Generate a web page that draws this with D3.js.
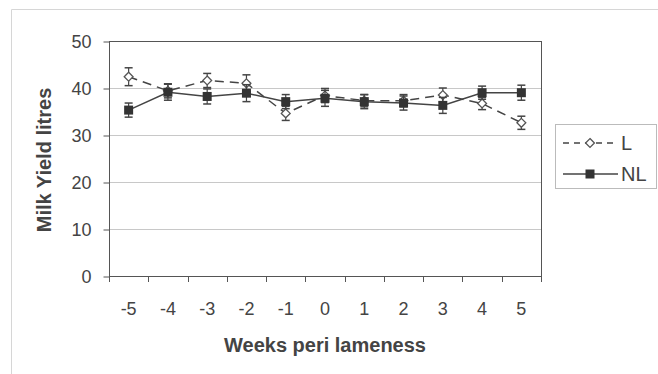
<!DOCTYPE html>
<html>
<head>
<meta charset="utf-8">
<script src="https://cdn.jsdelivr.net/npm/d3@7"></script>
<style>
  body { margin: 0; background: #fff; }
  text { font-family: "Liberation Sans", Arial, sans-serif; }
</style>
</head>
<body>
<div id="chart"></div>
<script>
const weeks = ["-5", "-4", "-3", "-2", "-1", "0", "1", "2", "3", "4", "5"];
const lame = [42.4, 39.4, 41.6, 41.0, 34.6, 38.4, 37.3, 37.3, 38.5, 36.7, 32.6];
const lameErr = [1.9, 1.5, 1.5, 1.8, 1.5, 1.5, 1.3, 1.3, 1.5, 1.3, 1.4];
const notLame = [35.3, 39.1, 38.2, 38.9, 37.1, 37.8, 37.1, 36.8, 36.3, 39.0, 39.0];
const notLameErr = [1.5, 1.7, 1.6, 1.8, 1.5, 1.7, 1.5, 1.5, 1.7, 1.4, 1.6];
const yTicks = [0, 10, 20, 30, 40, 50];

const width = 658, height = 374;
const plotLeft = 109, plotRight = 541, plotTop = 41, plotBottom = 276;

const svg = d3.select("#chart").append("svg")
  .attr("width", width)
  .attr("height", height);

// outer frame (runs off the picture on the right and bottom)
svg.append("path")
  .attr("d", "M11.5," + height + "V9.5H" + width)
  .attr("fill", "none")
  .attr("stroke", "#d6d6d6");

const x = d3.scaleBand().domain(weeks).range([plotLeft, plotRight]);
const y = d3.scaleLinear().domain([0, 50]).range([plotBottom, plotTop]);

// gridlines
svg.append("g")
  .selectAll("line")
  .data(yTicks.filter(d => d > 0 && d < 50))
  .enter().append("line")
  .attr("x1", plotLeft).attr("x2", plotRight)
  .attr("y1", d => Math.round(y(d)) + 0.5)
  .attr("y2", d => Math.round(y(d)) + 0.5)
  .attr("stroke", "#c8c8c8");

// plot box
svg.append("rect")
  .attr("x", plotLeft + 0.5).attr("y", plotTop + 0.5)
  .attr("width", plotRight - plotLeft).attr("height", plotBottom - plotTop)
  .attr("fill", "none")
  .attr("stroke", "#555");

// y axis
const yAxis = svg.append("g")
  .attr("transform", "translate(" + (plotLeft + 0.5) + ",0.5)")
  .call(d3.axisLeft(y).tickValues(yTicks).tickSize(6).tickPadding(12));
yAxis.select(".domain").remove();
yAxis.selectAll("line").attr("stroke", "#555");
yAxis.selectAll("text")
  .attr("font-size", 18)
  .attr("fill", "#444")
  .attr("font-family", "Liberation Sans, Arial, sans-serif");

// x axis: ticks on band edges, labels in band centres
const edges = weeks.map(w => x(w)).concat([plotRight]);
svg.append("g")
  .selectAll("line")
  .data(edges)
  .enter().append("line")
  .attr("x1", d => Math.round(d) + 0.5).attr("x2", d => Math.round(d) + 0.5)
  .attr("y1", plotBottom).attr("y2", plotBottom + 6)
  .attr("stroke", "#555");
svg.append("g")
  .selectAll("text")
  .data(weeks)
  .enter().append("text")
  .attr("x", d => x(d) + x.bandwidth() / 2)
  .attr("y", 315)
  .attr("text-anchor", "middle")
  .attr("font-size", 18)
  .attr("fill", "#444")
  .text(d => d);

// axis titles
svg.append("text")
  .attr("x", 325).attr("y", 352)
  .attr("text-anchor", "middle")
  .attr("font-size", 20)
  .attr("font-weight", "bold")
  .attr("fill", "#444")
  .text("Weeks peri lameness");

svg.append("text")
  .attr("transform", "translate(51,160) rotate(-90)")
  .attr("text-anchor", "middle")
  .attr("font-size", 20)
  .attr("font-weight", "bold")
  .attr("fill", "#444")
  .text("Milk Yield litres");

const cx = d => x(d) + x.bandwidth() / 2;

function drawSeries(vals, errs, dash, markerFn) {
  const pts = weeks.map((w, i) => ({ w: w, v: vals[i], e: errs[i] }));
  const g = svg.append("g");
  g.append("path")
    .datum(pts)
    .attr("d", d3.line().x(d => cx(d.w)).y(d => y(d.v)))
    .attr("fill", "none")
    .attr("stroke", "#444")
    .attr("stroke-width", 1.5)
    .attr("stroke-dasharray", dash);
  // error bars
  const eb = g.selectAll(".eb").data(pts).enter().append("g");
  eb.append("line")
    .attr("x1", d => cx(d.w)).attr("x2", d => cx(d.w))
    .attr("y1", d => y(d.v - d.e)).attr("y2", d => y(d.v + d.e))
    .attr("stroke", "#444").attr("stroke-width", 1.2);
  [-1, 1].forEach(s => {
    eb.append("line")
      .attr("x1", d => cx(d.w) - 4).attr("x2", d => cx(d.w) + 4)
      .attr("y1", d => y(d.v + s * d.e)).attr("y2", d => y(d.v + s * d.e))
      .attr("stroke", "#444").attr("stroke-width", 1.5);
  });
  pts.forEach(d => markerFn(g, cx(d.w), y(d.v)));
}

function diamond(g, px, py) {
  g.append("path")
    .attr("d", d3.symbol(d3.symbolDiamond2, 50)())
    .attr("transform", "translate(" + px + "," + py + ")")
    .attr("fill", "#fff")
    .attr("stroke", "#555")
    .attr("stroke-width", 1.3);
}
function square(g, px, py) {
  g.append("rect")
    .attr("x", px - 4.5).attr("y", py - 4.5)
    .attr("width", 9).attr("height", 9)
    .attr("fill", "#333");
}

drawSeries(lame, lameErr, "9,6", diamond);
drawSeries(notLame, notLameErr, null, square);

// legend
const lg = svg.append("g");
lg.append("rect")
  .attr("x", 555.5).attr("y", 124.5)
  .attr("width", 101).attr("height", 64)
  .attr("fill", "#fff")
  .attr("stroke", "#bbb");
const legendItems = [
  { name: "L", dash: "6,5", marker: diamond, yy: 143 },
  { name: "NL", dash: null, marker: square, yy: 174 }
];
legendItems.forEach(it => {
  lg.append("line")
    .attr("x1", 563).attr("x2", 618)
    .attr("y1", it.yy).attr("y2", it.yy)
    .attr("stroke", "#444").attr("stroke-width", 1.5)
    .attr("stroke-dasharray", it.dash);
  it.marker(lg, 590, it.yy);
  lg.append("text")
    .attr("x", 621).attr("y", it.yy + 7)
    .attr("font-size", 20)
    .attr("fill", "#444")
    .text(it.name);
});
</script>
</body>
</html>
